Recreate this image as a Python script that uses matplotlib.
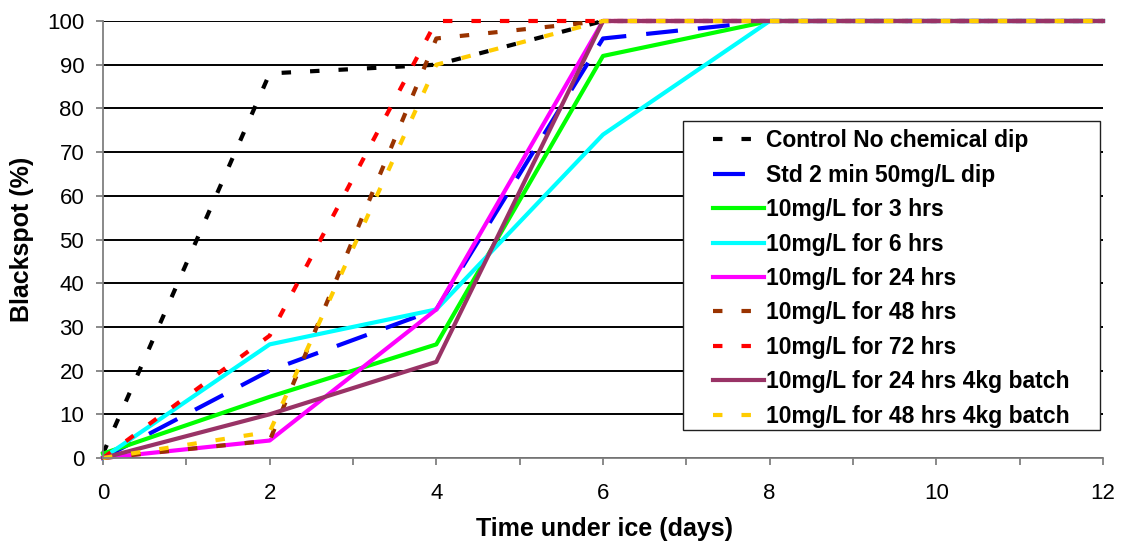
import matplotlib.pyplot as plt
from matplotlib.patches import Rectangle
from matplotlib.ticker import MultipleLocator

plt.rcParams['font.family'] = ['Liberation Sans', 'DejaVu Sans']
plt.rcParams['lines.scale_dashes'] = False

days = [0, 2, 4, 6, 8, 10, 12]

control = [1, 88, 90, 100, 100, 100, 100]
std_dip = [0, 20, 34, 96, 100, 100, 100]
hrs_3 = [1, 14, 26, 92, 100, 100, 100]
hrs_6 = [0, 26, 34, 74, 100, 100, 100]
hrs_24 = [0, 4, 34, 100, 100, 100, 100]
hrs_48 = [0, 4, 96, 100, 100, 100, 100]
hrs_72 = [0, 28, 100, 100, 100, 100, 100]
hrs_24_batch = [0, 10, 22, 100, 100, 100, 100]
hrs_48_batch = [0, 6, 90, 100, 100, 100, 100]

labels = [
    'Control No chemical dip',
    'Std 2 min 50mg/L dip',
    '10mg/L for 3 hrs',
    '10mg/L for 6 hrs',
    '10mg/L for 24 hrs',
    '10mg/L for 48 hrs',
    '10mg/L for 72 hrs',
    '10mg/L for 24 hrs 4kg batch',
    '10mg/L for 48 hrs 4kg batch',
]
series = [control, std_dip, hrs_3, hrs_6, hrs_24, hrs_48, hrs_72,
          hrs_24_batch, hrs_48_batch]
colors = ['#000000', '#0000FF', '#00FF00', '#00FFFF', '#FF00FF',
          '#993300', '#FF0000', '#993366', '#FFCC00']

# dash lengths in points (scale_dashes is off)
short = (0, (6.8, 13.7))
long_dash = (0, (23, 14.4))
styles = [short, long_dash, '-', '-', '-', short, short, '-', short]

W, H = 1121, 548
fig = plt.figure(figsize=(W / 100, H / 100), dpi=100)
ax = fig.add_axes([103 / W, 1 - 458 / H, 1000 / W, 437 / H])

handles = []
for y, lab, c, ls in zip(series, labels, colors, styles):
    h, = ax.plot(days, y, color=c, linestyle=ls, linewidth=3.0,
                 dash_capstyle='butt', label=lab, clip_on=False)
    handles.append(h)

ax.set_xlim(0, 12)
ax.set_ylim(0, 100)
ax.xaxis.set_major_locator(MultipleLocator(2))
ax.xaxis.set_minor_locator(MultipleLocator(1))
ax.yaxis.set_major_locator(MultipleLocator(10))
ax.grid(axis='y', color='black', linewidth=1.4)
ax.set_axisbelow(True)

for side in ['top', 'right']:
    ax.spines[side].set_visible(False)
for side in ['left', 'bottom']:
    ax.spines[side].set_color('#808080')
    ax.spines[side].set_linewidth(1.3)

ax.tick_params(axis='both', which='both', direction='out', color='#808080',
               labelsize=16, width=1.3, length=5)
ax.tick_params(axis='y', pad=8.5)
ax.tick_params(axis='x', which='major', pad=13)

ax.set_xlabel('Time under ice (days)', fontsize=18, fontweight='bold')
ax.set_ylabel('Blackspot (%)', fontsize=18, fontweight='bold')
ax.xaxis.set_label_coords(0.502, -0.134)
ax.yaxis.set_label_coords(-0.069, 0.50)

# legend box drawn on the figure so it covers the gridlines
x0, y0, x1, y1 = 683, 121, 1100, 430
fig.add_artist(Rectangle((x0 / W, 1 - y1 / H), (x1 - x0) / W, (y1 - y0) / H,
                         transform=fig.transFigure, facecolor='white',
                         edgecolor='#202020', linewidth=1.0, zorder=2))
fig.legend(handles, labels, loc='center',
           bbox_to_anchor=((x0 + x1) / 2 / W, 1 - (y0 + y1 + 6) / 2 / H),
           bbox_transform=fig.transFigure, frameon=False,
           prop={'weight': 'bold', 'size': 16.5},
           handlelength=2.2, handletextpad=0.12, labelspacing=0.5,
           borderpad=0.0).set_zorder(3)

fig.savefig('out.png', dpi=100)
